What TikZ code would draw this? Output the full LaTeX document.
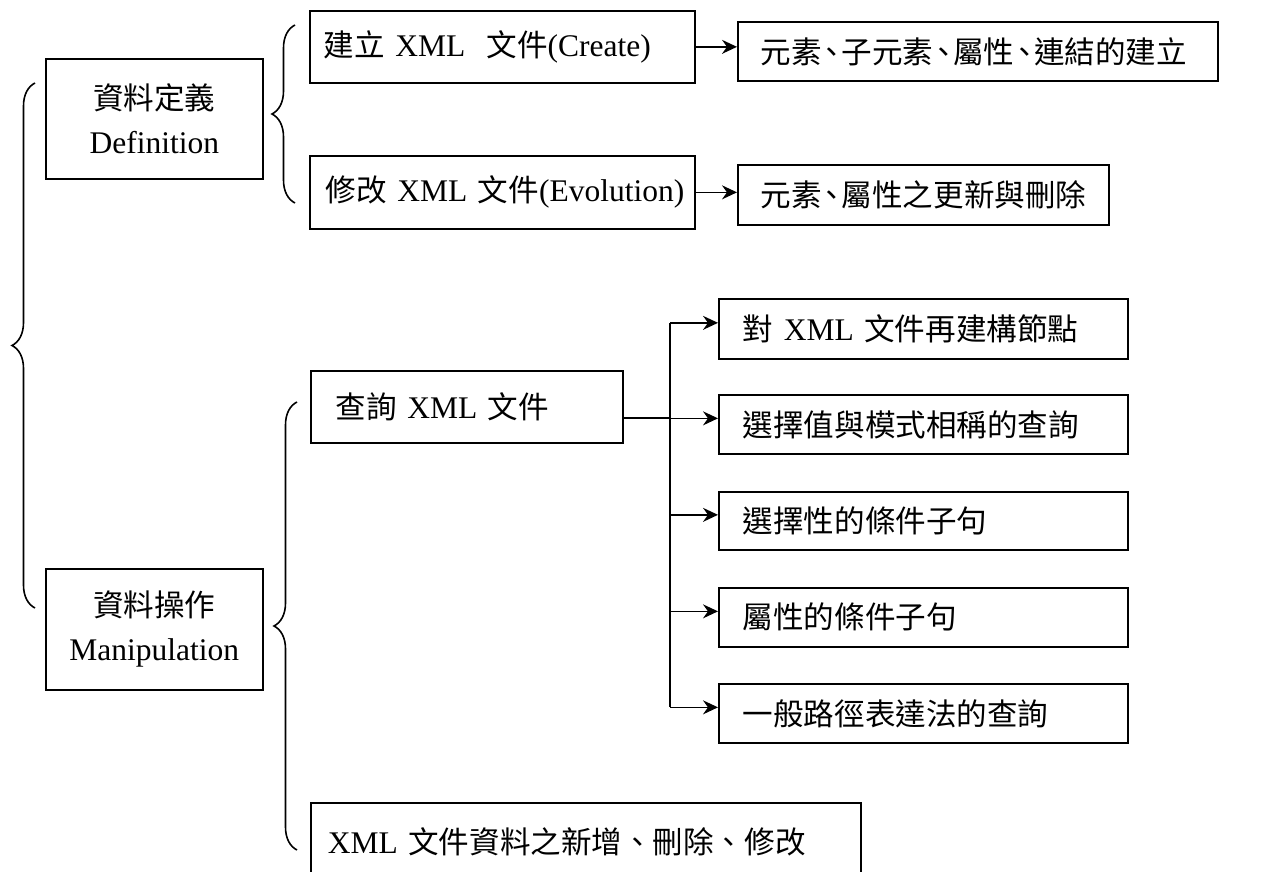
\documentclass[tikz,border=0pt]{standalone}
\usepackage{fontspec}
\setmainfont{Liberation Serif}
\newfontfamily\cjk[Scale=0.97]{Noto Sans CJK TC}
\usetikzlibrary{arrows.meta}
\usetikzlibrary{decorations.pathreplacing}
\newcommand{\zh}[1]{{\cjk #1}}
\newcommand{\dun}{\makebox[0.65em]{、}}

\tikzset{
  box/.style={draw, line width=1.7pt, anchor=north west, inner ysep=0pt,
    font=\fontsize{31.5}{44}\selectfont},
  lbox/.style={box, align=left},
  cbox/.style={box, align=center, inner xsep=0pt},
  link/.style={line width=1.6pt},
  arr/.style={line width=1.6pt, -{Stealth[length=15pt,width=14pt,inset=5pt]}},
  brace/.style={decorate, decoration={brace, amplitude=23pt}, line width=1.6pt}
}

\begin{document}
\begin{tikzpicture}[x=1pt,y=-1pt]
\useasboundingbox (0,0) rectangle (1277,872);
\clip (0,0) rectangle (1277,872);

% left column
\node[cbox, text width=217pt, minimum height=120pt] (def) at (45,58) {\zh{資料定義}\\Definition};
\node[cbox, text width=217pt, minimum height=121pt] (man) at (45,568) {\zh{資料操作}\\Manipulation};

% definition branch
\node[lbox, inner xsep=14pt, text width=357pt, minimum height=72pt] (create) at (309,10) {\mbox{\zh{建立} XML\ \ \zh{文件}(Create)}};
\node[lbox, inner xsep=16pt, text width=353pt, minimum height=73pt] (evol) at (309,155) {\mbox{\zh{修改} XML \zh{文件}(Evolution)}};
\node[lbox, inner xsep=23pt, text width=434pt, minimum height=59pt] (createR) at (737,21) {\mbox{\zh{元素\dun 子元素\dun 屬性\dun 連結的建立}}};
\node[lbox, inner xsep=23pt, text width=325pt, minimum height=60pt] (evolR) at (737,164) {\mbox{\zh{元素\dun 屬性之更新與刪除}}};

% manipulation branch
\node[lbox, inner xsep=25pt, text width=262pt, minimum height=72pt] (query) at (310,370) {\mbox{\zh{查詢} XML \zh{文件}}};
\node[lbox, inner xsep=24pt, text width=361pt, minimum height=60pt] (q1) at (718,298) {\mbox{\zh{對} XML \zh{文件再建構節點}}};
\node[lbox, inner xsep=24pt, text width=361pt, minimum height=59pt] (q2) at (718,394) {\mbox{\zh{選擇值與模式相稱的查詢}}};
\node[lbox, inner xsep=24pt, text width=361pt, minimum height=58pt] (q3) at (718,491) {\mbox{\zh{選擇性的條件子句}}};
\node[lbox, inner xsep=24pt, text width=361pt, minimum height=59pt] (q4) at (718,587) {\mbox{\zh{屬性的條件子句}}};
\node[lbox, inner xsep=24pt, text width=361pt, minimum height=59pt] (q5) at (718,683) {\mbox{\zh{一般路徑表達法的查詢}}};
\node[lbox, inner xsep=17pt, text width=516pt, minimum height=78pt] (update) at (310,802) {\mbox{XML \zh{文件資料之新增、刪除、修改}}};

% braces
\draw[brace] (35,608) -- (35,83);
\draw[brace] (295,203) -- (295,25);
\draw[brace] (297,850) -- (297,402);

% arrows
\draw[arr] (create.east) -- (createR.west |- create.east);
\draw[arr] (evol.east) -- (evolR.west |- evol.east);

\coordinate (fork) at (670,418);
\foreach \i in {1,...,5}
  \coordinate (t\i) at ([yshift=6pt]q\i.west);
\draw[link] (query.east |- fork) -- (fork);
\draw[link] (t1 -| fork) -- (t5 -| fork);
\foreach \i in {1,...,5}
  \draw[arr] (t\i -| fork) -- (t\i);
\end{tikzpicture}
\end{document}
